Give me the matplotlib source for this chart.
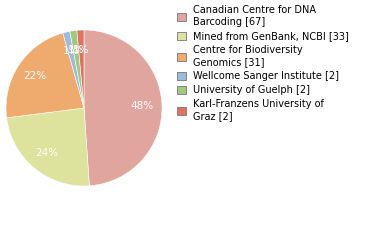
import matplotlib.pyplot as plt

labels = ["Canadian Centre for DNA\nBarcoding [67]",
          "Mined from GenBank, NCBI [33]",
          "Centre for Biodiversity\nGenomics [31]",
          "Wellcome Sanger Institute [2]",
          "University of Guelph [2]",
          "Karl-Franzens University of\nGraz [2]"]
counts = [67, 33, 31, 2, 2, 2]
colors = ["#e0a59d", "#dde29c", "#eeab6d", "#9bbce0", "#9dca7b", "#e07261"]

def pct_label(p):
    return "%d%%" % int(p)

fig = plt.figure(figsize=(3.8, 2.4), dpi=100)
ax = fig.add_axes([6/380, 54/240, 156/380, 156/240])
wedges, texts, autotexts = ax.pie(counts, colors=colors, startangle=90, counterclock=False,
                                  autopct=pct_label, pctdistance=0.75,
                                  wedgeprops=dict(edgecolor="white", linewidth=0.4),
                                  textprops=dict(color="white", fontsize=7.5))
ax.set_xlim(-1, 1)
ax.set_ylim(-1, 1)
ax.set_aspect("equal")

handles = [plt.Rectangle((0, 0), 1, 1, facecolor=c, edgecolor="#777777", linewidth=0.6) for c in colors]
leg = fig.legend(handles, labels, loc="upper left", bbox_to_anchor=(173/380, 1 - 1/240),
                 frameon=False, fontsize=7, handlelength=0.9, handleheight=0.9,
                 handletextpad=0.8, labelspacing=0.4, borderaxespad=0)
for t in leg.get_texts():
    t.set_linespacing(1.3)

fig.savefig("out.png", dpi=100)
